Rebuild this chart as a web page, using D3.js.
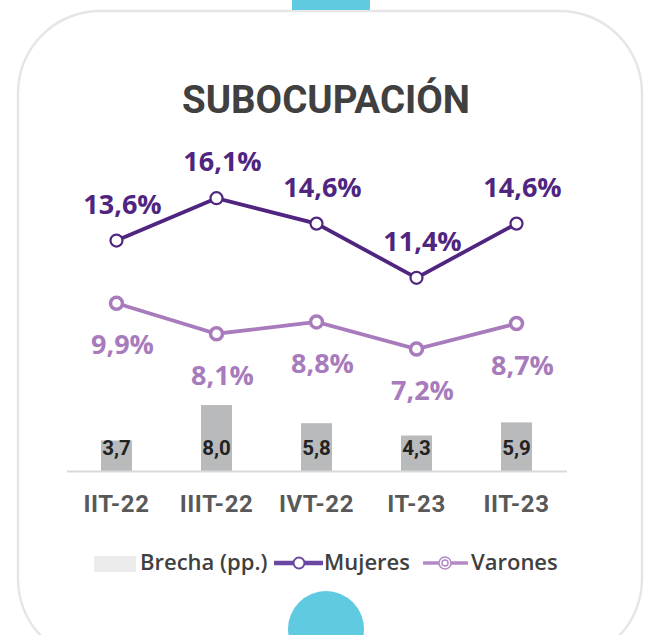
<!DOCTYPE html>
<html>
  <head>
    <meta charset="utf-8">
    <title>Subocupación</title>
    <script src="https://d3js.org/d3.v7.min.js"></script>
    <style>
      body { margin: 0; background: #fff; }
    </style>
  </head>
  <body>
    <script>
      // chart values
      const periods = ["IIT-22", "IIIT-22", "IVT-22", "IT-23", "IIT-23"];
      const mujeres = [13.6, 16.1, 14.6, 11.4, 14.6];
      const varones = [9.9, 8.1, 8.8, 7.2, 8.7];
      const brecha = [3.7, 8.0, 5.8, 4.3, 5.9];

      const width = 645;
      const height = 635;
      const fmt = v => v.toFixed(1).replace(".", ",");

      const colMujeres = "#4f2580";
      const colVarones = "#a87bbc";
      const colBar = "#b9babb";
      const labelFont = "'Open Sans', 'Noto Sans', sans-serif";

      const svg = d3.select("body")
        .append("svg")
          .attr("width", width)
          .attr("height", height)
          .style("font-family", labelFont);

      // card frame + teal decorations
      svg.append("rect")
        .attr("x", 18).attr("y", 11)
        .attr("width", 624).attr("height", 650)
        .attr("rx", 82).attr("ry", 82)
        .attr("fill", "#fff")
        .attr("stroke", "#e6e6e6")
        .attr("stroke-width", 2.5);

      svg.append("rect")
        .attr("x", 292).attr("y", 0)
        .attr("width", 78).attr("height", 10)
        .attr("fill", "#5fcae0");

      svg.append("circle")
        .attr("cx", 326).attr("cy", 629).attr("r", 38)
        .attr("fill", "#5fcae0");

      svg.append("text")
        .attr("x", 326).attr("y", 113)
        .attr("text-anchor", "middle")
        .style("font-family", "Roboto")
        .style("font-weight", 700)
        .style("font-size", "38px")
        .attr("textLength", 288)
        .attr("lengthAdjust", "spacingAndGlyphs")
        .attr("fill", "#404040")
        .text("SUBOCUPACIÓN");

      // scales
      const x = d3.scaleBand()
        .domain(periods)
        .range([66.5, 566.5]);

      const yLine = d3.scaleLinear()
        .domain([0, 18])
        .range([471, 166]);

      const yBar = d3.scaleLinear()
        .domain([0, 37])
        .range([471, 166]);

      const cx = d => x(d) + x.bandwidth() / 2;

      // bars
      svg.append("g")
        .selectAll("rect")
        .data(brecha)
        .join("rect")
          .attr("x", (d, i) => cx(periods[i]) - 15.5)
          .attr("width", 31)
          .attr("y", d => yBar(d))
          .attr("height", d => yBar(0) - yBar(d))
          .attr("fill", colBar);

      svg.append("g")
        .selectAll("text")
        .data(brecha)
        .join("text")
          .attr("x", (d, i) => cx(periods[i]))
          .attr("y", 455)
          .attr("text-anchor", "middle")
          .style("font-family", "Roboto")
          .style("font-weight", 700)
          .style("font-size", "20.5px")
          .attr("fill", "#222")
          .text(d => fmt(d));

      // x axis
      const xAxis = d3.axisBottom(x).tickSize(0).tickPadding(24);
      const gx = svg.append("g")
        .attr("transform", "translate(0," + 471 + ")")
        .call(xAxis);
      gx.select(".domain")
        .attr("stroke", "#d9d9d9")
        .attr("stroke-width", 2);
      gx.selectAll("text")
        .style("font-family", "Roboto")
        .style("font-weight", 700)
        .style("font-size", "24px")
        .style("letter-spacing", "0.6px")
        .attr("fill", "#595959");

      // lines
      const line = d3.line()
        .x((d, i) => cx(periods[i]))
        .y(d => yLine(d));

      function drawSeries(values, color, lw, mw, labelDy) {
        svg.append("path")
          .attr("d", line(values))
          .attr("fill", "none")
          .attr("stroke", color)
          .attr("stroke-width", lw);

        svg.append("g")
          .selectAll("circle")
          .data(values)
          .join("circle")
            .attr("cx", (d, i) => cx(periods[i]))
            .attr("cy", d => yLine(d))
            .attr("r", 6)
            .attr("fill", "#fff")
            .attr("stroke", color)
            .attr("stroke-width", mw);

        svg.append("g")
          .selectAll("text")
          .data(values)
          .join("text")
            .attr("x", (d, i) => cx(periods[i]) + 6)
            .attr("y", d => yLine(d) + labelDy)
            .attr("text-anchor", "middle")
            .style("font-weight", 700)
            .style("font-size", "27px")
            .attr("fill", color)
            .text(d => fmt(d) + "%");
      }

      drawSeries(mujeres, colMujeres, 3.8, 2.2, -27);
      drawSeries(varones, colVarones, 3.8, 3.5, 51);

      // legend
      const lg = svg.append("g")
        .style("font-size", "22px")
        .style("font-weight", 600)
        .attr("fill", "#404040");

      lg.append("rect")
        .attr("x", 94).attr("y", 556)
        .attr("width", 42).attr("height", 16)
        .attr("fill", "#ececec");
      lg.append("text").attr("x", 140).attr("y", 570).text("Brecha (pp.)");

      lg.append("line")
        .attr("x1", 274).attr("x2", 323).attr("y1", 563).attr("y2", 563)
        .attr("stroke", "#6a47a3").attr("stroke-width", 4.5);
      lg.append("circle")
        .attr("cx", 299).attr("cy", 563).attr("r", 5.5)
        .attr("fill", "#fff").attr("stroke", "#6a47a3").attr("stroke-width", 2);
      lg.append("text").attr("x", 324).attr("y", 570).text("Mujeres");

      lg.append("line")
        .attr("x1", 423).attr("x2", 468).attr("y1", 563).attr("y2", 563)
        .attr("stroke", "#b48ac6").attr("stroke-width", 3.5);
      lg.append("circle")
        .attr("cx", 445).attr("cy", 563).attr("r", 6)
        .attr("fill", "#fff").attr("stroke", "#b48ac6").attr("stroke-width", 1.5);
      lg.append("circle")
        .attr("cx", 445).attr("cy", 563).attr("r", 3)
        .attr("fill", "#fff").attr("stroke", "#b48ac6").attr("stroke-width", 1.5);
      lg.append("text").attr("x", 471).attr("y", 570).text("Varones");
    </script>
  </body>
</html>
